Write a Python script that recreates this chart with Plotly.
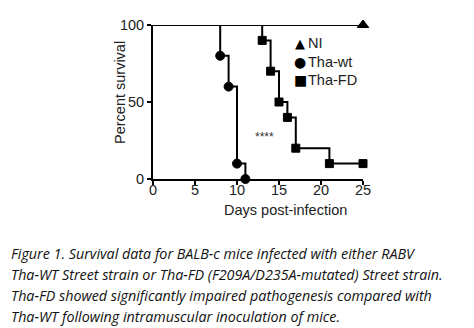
import plotly.graph_objects as go

# Data (Kaplan-Meier step curves)
ni_days = [0, 25]
ni_surv = [100, 100]
wt_days = [0, 8, 9, 10, 11]
wt_surv = [100, 80, 60, 10, 0]
fd_days = [0, 13, 14, 15, 16, 17, 21, 25]
fd_surv = [100, 90, 70, 50, 40, 20, 10, 10]
x_ticks = [0, 5, 10, 15, 20, 25]
y_ticks = [0, 50, 100]
legend_names = ["NI", "Tha-wt", "Tha-FD"]
legend_glyphs = ["▲", "●", "■"]

W, H = 474, 328
L, R, T, B = 153, 111, 25, 149
pw, ph = W - L - R, H - T - B

def px_x(px):
    return (px - L) / pw

def px_y(py):
    return (H - B - py) / ph

fig = go.Figure()
black = "#000000"

def add_curve(x, y, symbol, size):
    fig.add_trace(go.Scatter(x=x, y=y, mode="lines", line=dict(color=black, width=2, shape="hv"),
                             showlegend=False, cliponaxis=False, hoverinfo="skip"))
    fig.add_trace(go.Scatter(x=x[1:], y=y[1:], mode="markers",
                             marker=dict(symbol=symbol, size=size, color="black", opacity=1,
                                         line=dict(width=1, color="black")),
                             showlegend=False, cliponaxis=False))

add_curve(ni_days, ni_surv, "triangle-up", 10)
add_curve(wt_days, wt_surv, "circle", 9)
add_curve(fd_days, fd_surv, "square", 8)

# legend (compact, marker right next to label)
leg_rows = [43, 62, 80]
for glyph, name, row, gs in zip(legend_glyphs, legend_names, leg_rows, [13, 14, 14]):
    fig.add_annotation(xref="paper", yref="paper", x=px_x(300), y=px_y(row), text=glyph, showarrow=False,
                       xanchor="center", yanchor="middle", font=dict(family="DejaVu Sans", size=gs, color=black))
    fig.add_annotation(xref="paper", yref="paper", x=px_x(306), y=px_y(row), text=name, showarrow=False,
                       xanchor="left", yanchor="middle", font=dict(family="Liberation Sans", size=14.5, color="#222"))

fig.add_annotation(x=13.3, y=27, text="****", showarrow=False, font=dict(size=12, color="#333", family="Liberation Sans"))

axis_font = dict(family="Liberation Sans", size=14.5, color="#222")
fig.add_annotation(xref="paper", yref="paper", x=px_x(285), y=px_y(210), text="Days post-infection", showarrow=False,
                   xanchor="center", yanchor="middle", font=axis_font)
fig.add_annotation(xref="paper", yref="paper", x=px_x(120), y=px_y(93), text="Percent survival", showarrow=False,
                   xanchor="center", yanchor="middle", textangle=-90, font=axis_font)

caption_lines = ["Figure 1. Survival data for BALB-c mice infected with either RABV",
                 "Tha-WT Street strain or Tha-FD (F209A/D235A-mutated) Street strain.",
                 "Tha-FD showed significantly impaired pathogenesis compared with",
                 "Tha-WT following intramuscular inoculation of mice."]
for i, line in enumerate(caption_lines):
    fig.add_annotation(xref="paper", yref="paper", x=px_x(9), y=px_y(253 + 21 * i), xanchor="left", yanchor="middle",
                       align="left", showarrow=False, text=line,
                       font=dict(family="Open Sans", size=14.3, color="#111", style="italic"))

fig.update_xaxes(range=[0, 25], tickvals=x_ticks, ticks="outside", ticklen=4, tickwidth=2, tickcolor=black,
                 showline=True, linecolor=black, linewidth=2, showgrid=False, zeroline=False,
                 tickfont=axis_font, ticklabelstandoff=-7)
fig.update_yaxes(range=[0, 100], tickvals=y_ticks, ticks="outside", ticklen=4, tickwidth=2, tickcolor=black,
                 showline=True, linecolor=black, linewidth=2, showgrid=False, zeroline=False,
                 tickfont=axis_font, ticklabelstandoff=0)

fig.update_layout(width=W, height=H, margin=dict(l=L, r=R, t=T, b=B), plot_bgcolor="white", paper_bgcolor="white",
                  showlegend=False)

fig.write_html("out.html")
